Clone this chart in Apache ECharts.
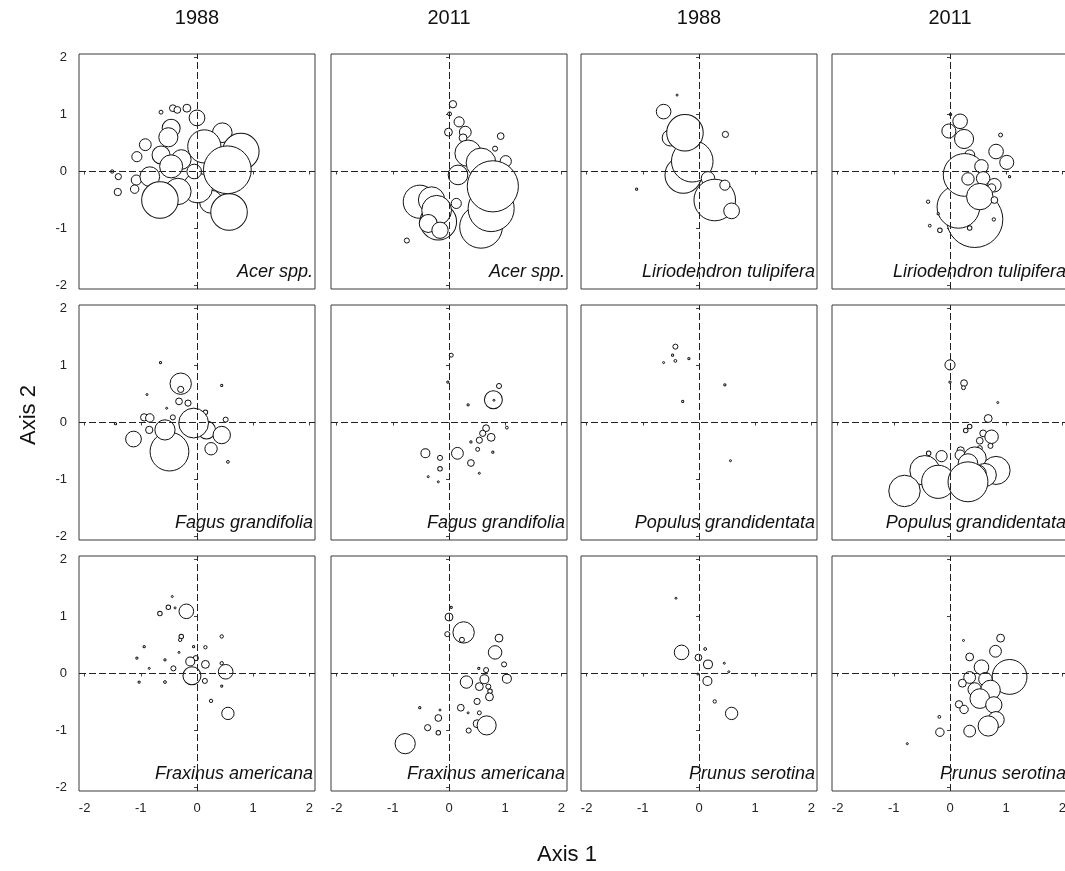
<!DOCTYPE html>
<html>
<head>
<meta charset="utf-8">
<script src="https://cdn.jsdelivr.net/npm/echarts@6.0.0/dist/echarts.min.js"></script>
<style>
  html, body { margin: 0; padding: 0; background: #fff; }
  #graph1 { width: 1065px; height: 871px; }
</style>
</head>
<body>
<div id="graph1"></div>
<script>
// column headers, species names and axis ticks
var years = ['1988', '2011', '1988', '2011'];
var species = ['Acer spp.', 'Liriodendron tulipifera', 'Fagus grandifolia',
    'Populus grandidentata', 'Fraxinus americana', 'Prunus serotina'];
var tickValues = [-2, -1, 0, 1, 2];

// [axis 1, axis 2, bubble size (axis units)]
var acer1988 = [
    [-0.64, 1.04, 0.07], [-0.43, 1.11, 0.12], [-0.35, 1.08, 0.12], [-0.18, 1.11, 0.14],
    [-1.51, 0.0, 0.06], [-1.40, -0.09, 0.11], [-1.41, -0.36, 0.13],
    [-0.92, 0.47, 0.21], [-1.07, 0.26, 0.18],
    [0.45, 0.68, 0.35], [-0.46, 0.76, 0.32], [0.0, 0.94, 0.28],
    [-0.28, 0.21, 0.35], [-0.64, 0.29, 0.32], [-0.46, 0.09, 0.41],
    [-1.08, -0.15, 0.18], [-1.11, -0.31, 0.15], [-0.84, -0.09, 0.35],
    [0.25, -0.53, 0.41], [0.01, -0.29, 0.53], [-0.34, -0.35, 0.47],
    [-0.51, 0.6, 0.34],
    [0.78, 0.35, 0.65], [0.13, 0.44, 0.59],
    [-0.66, -0.5, 0.65], [0.57, -0.71, 0.65], [0.54, 0.03, 0.85], [-0.05, 0.0, 0.26]
];
var acer2011 = [
    [0.07, 1.18, 0.13], [0.01, 1.01, 0.07], [0.18, 0.87, 0.18], [-0.01, 0.69, 0.14],
    [0.29, 0.69, 0.21], [0.25, 0.59, 0.14], [0.92, 0.62, 0.12], [0.82, 0.40, 0.09],
    [-0.75, -1.21, 0.09],
    [0.34, 0.32, 0.47], [0.57, 0.15, 0.53], [1.01, 0.18, 0.2], [0.16, -0.06, 0.35],
    [-0.52, -0.53, 0.59], [-0.31, -0.5, 0.47], [-0.19, -0.88, 0.65], [-0.22, -0.68, 0.53],
    [-0.37, -0.91, 0.32], [-0.16, -1.03, 0.29], [0.13, -0.56, 0.18],
    [0.57, -0.97, 0.76], [0.75, -0.65, 0.82], [0.78, -0.26, 0.91]
];
var lirio1988 = [
    [-0.39, 1.34, 0.03], [-1.11, -0.31, 0.04], [0.47, 0.65, 0.11],
    [-0.63, 1.05, 0.26], [-0.51, 0.59, 0.29],
    [-0.28, -0.06, 0.65], [-0.12, 0.18, 0.74], [-0.25, 0.68, 0.65],
    [0.16, -0.12, 0.24],
    [0.28, -0.5, 0.74], [0.46, -0.24, 0.18], [0.58, -0.69, 0.28]
];
var lirio2011 = [
    [0.01, 1.0, 0.04], [0.9, 0.64, 0.07], [1.06, -0.09, 0.04],
    [0.44, -0.84, 1.0], [0.15, -0.62, 0.76],
    [-0.39, -0.53, 0.06], [-0.36, -0.95, 0.05], [-0.18, -1.03, 0.08], [0.35, -0.99, 0.08],
    [0.78, -0.84, 0.06], [-0.21, -0.74, 0.04],
    [0.18, 0.88, 0.26], [-0.02, 0.71, 0.25], [0.25, 0.57, 0.34], [0.35, 0.29, 0.18],
    [0.82, 0.35, 0.26], [1.01, 0.16, 0.25],
    [0.26, -0.06, 0.76], [0.56, 0.09, 0.24], [0.32, -0.13, 0.22], [0.59, -0.12, 0.24],
    [0.79, -0.24, 0.24], [0.74, -0.29, 0.15], [0.53, -0.44, 0.47], [0.79, -0.5, 0.12]
];
var fagus1988 = [
    [-0.65, 1.05, 0.04], [0.44, 0.65, 0.04], [-1.45, -0.02, 0.04], [-0.89, 0.49, 0.03],
    [-0.54, 0.25, 0.03], [0.55, -0.69, 0.05],
    [-0.29, 0.68, 0.38], [-0.29, 0.58, 0.11], [-0.32, 0.37, 0.12], [-0.16, 0.34, 0.11],
    [-0.94, 0.09, 0.13], [-0.84, 0.08, 0.15], [-0.43, 0.09, 0.09], [-0.85, -0.13, 0.13],
    [-1.13, -0.29, 0.28], [-0.49, -0.51, 0.69], [-0.57, -0.13, 0.36],
    [0.17, -0.13, 0.32], [0.15, 0.18, 0.08], [0.51, 0.05, 0.09], [-0.06, -0.01, 0.53],
    [0.44, -0.22, 0.31], [0.25, -0.46, 0.22]
];
var fagus2011 = [
    [0.04, 1.18, 0.07], [-0.02, 0.71, 0.04], [0.34, 0.31, 0.04], [1.03, -0.09, 0.05],
    [0.78, -0.52, 0.04], [0.54, -0.89, 0.03], [-0.37, -0.95, 0.03], [-0.19, -1.04, 0.03],
    [0.39, -0.34, 0.04],
    [0.79, 0.4, 0.32], [0.8, 0.39, 0.03], [0.89, 0.64, 0.09],
    [0.66, -0.1, 0.12], [0.6, -0.19, 0.11], [0.54, -0.31, 0.11], [0.75, -0.26, 0.14],
    [0.51, -0.47, 0.07],
    [0.15, -0.54, 0.21], [-0.42, -0.54, 0.16], [-0.16, -0.62, 0.09], [-0.16, -0.81, 0.08],
    [0.39, -0.71, 0.12]
];
var populus1988 = [
    [-0.42, 1.33, 0.09], [-0.47, 1.18, 0.04], [-0.42, 1.08, 0.05], [-0.63, 1.05, 0.03],
    [-0.18, 1.12, 0.04], [0.46, 0.66, 0.04], [-0.29, 0.37, 0.04], [0.56, -0.67, 0.03]
];
var populus2011 = [
    [0.0, 1.01, 0.18], [0.0, 0.71, 0.04], [0.25, 0.69, 0.12], [0.24, 0.61, 0.07],
    [0.85, 0.35, 0.03], [0.68, 0.07, 0.14],
    [0.35, -0.07, 0.08], [0.28, -0.14, 0.08], [0.59, -0.19, 0.12], [0.74, -0.25, 0.24],
    [0.53, -0.32, 0.12], [0.53, -0.45, 0.09], [0.72, -0.41, 0.09],
    [-0.38, -0.54, 0.08], [-0.15, -0.59, 0.2], [0.19, -0.49, 0.13], [0.18, -0.57, 0.18],
    [0.44, -0.63, 0.41], [0.32, -0.72, 0.35],
    [-0.45, -0.84, 0.53], [0.82, -0.84, 0.5], [0.62, -0.92, 0.41], [0.5, -0.89, 0.29],
    [-0.21, -1.04, 0.59], [0.32, -1.04, 0.71], [-0.81, -1.2, 0.56]
];
var fraxinus1988 = [
    [-0.44, 1.35, 0.02], [-0.39, 1.15, 0.02], [-0.51, 1.16, 0.08], [-0.66, 1.05, 0.08],
    [-0.19, 1.09, 0.26],
    [-0.28, 0.65, 0.08], [-0.3, 0.59, 0.06], [0.44, 0.65, 0.06], [-0.06, 0.47, 0.04],
    [0.15, 0.46, 0.06], [-0.94, 0.47, 0.04], [-1.07, 0.27, 0.04], [-0.57, 0.24, 0.04],
    [-0.85, 0.09, 0.02], [-0.32, 0.37, 0.03],
    [-0.02, 0.27, 0.09], [-0.12, 0.21, 0.16], [0.15, 0.16, 0.14], [-0.42, 0.09, 0.09],
    [0.44, 0.18, 0.06],
    [-0.09, -0.04, 0.32], [0.14, -0.13, 0.09], [0.51, 0.03, 0.26],
    [0.44, -0.22, 0.04], [-1.03, -0.15, 0.04], [-0.57, -0.15, 0.05], [0.25, -0.48, 0.06],
    [0.55, -0.7, 0.22]
];
var fraxinus2011 = [
    [0.04, 1.16, 0.04], [0.0, 0.99, 0.14], [-0.03, 0.69, 0.09], [0.26, 0.72, 0.38],
    [0.23, 0.59, 0.09],
    [0.89, 0.62, 0.14], [0.82, 0.37, 0.24], [0.98, 0.16, 0.09], [1.03, -0.09, 0.16],
    [0.53, 0.09, 0.04], [0.66, 0.06, 0.09], [0.31, -0.15, 0.22], [0.63, -0.1, 0.16],
    [0.54, -0.23, 0.14], [0.7, -0.23, 0.09], [0.73, -0.31, 0.08], [0.72, -0.41, 0.14],
    [0.5, -0.49, 0.11],
    [0.21, -0.6, 0.12], [0.54, -0.69, 0.07], [-0.52, -0.6, 0.04], [-0.16, -0.64, 0.02],
    [0.34, -0.69, 0.02],
    [0.5, -0.88, 0.14], [0.67, -0.91, 0.34], [0.35, -1.0, 0.09],
    [-0.19, -0.78, 0.12], [-0.38, -0.95, 0.11], [-0.19, -1.04, 0.08], [-0.78, -1.23, 0.36]
];
var prunus1988 = [
    [-0.41, 1.32, 0.03], [0.11, 0.43, 0.05], [-0.31, 0.37, 0.26], [-0.01, 0.28, 0.12],
    [0.16, 0.16, 0.16], [0.45, 0.18, 0.03], [0.53, 0.03, 0.03], [-0.02, -0.01, 0.03],
    [0.15, -0.13, 0.16], [0.28, -0.49, 0.06], [0.58, -0.7, 0.22]
];
var prunus2011 = [
    [0.9, 0.62, 0.14], [0.81, 0.39, 0.21], [0.35, 0.29, 0.14], [0.24, 0.58, 0.02],
    [1.06, -0.06, 0.62], [0.56, 0.11, 0.26], [0.35, -0.07, 0.21], [0.22, -0.17, 0.14],
    [0.44, -0.28, 0.24], [0.63, -0.1, 0.24], [0.72, -0.29, 0.35], [0.53, -0.44, 0.35],
    [0.78, -0.55, 0.29],
    [0.16, -0.54, 0.13], [0.25, -0.63, 0.15],
    [0.82, -0.81, 0.29], [0.68, -0.92, 0.36], [0.35, -1.01, 0.21],
    [-0.18, -1.03, 0.15], [-0.19, -0.76, 0.05], [-0.76, -1.23, 0.03]
];

var panels = [
    acer1988, acer2011, lirio1988, lirio2011,
    fagus1988, fagus2011, populus1988, populus2011,
    fraxinus1988, fraxinus2011, prunus1988, prunus2011
];

// layout
var colLeft = [79, 331, 581, 832];
var rowTop = [54, 305, 556];
var panelW = 236, panelH = 235;
var xMin = -2.1, xMax = 2.1, yMin = -2.06, yMax = 2.06;
var unitPx = panelW / (xMax - xMin);
var font = '"Liberation Sans", Arial, sans-serif';

var grids = [], xAxes = [], yAxes = [], series = [], texts = [];

for (var i = 0; i < panels.length; i++) {
    var r = Math.floor(i / 4), c = i % 4;
    // two species per row: columns 0-1 and columns 2-3
    var name = species[r * 2 + (c >= 2 ? 1 : 0)];
    grids.push({
        left: colLeft[c], top: rowTop[r], width: panelW, height: panelH,
        show: true, borderColor: '#3a3a3a', borderWidth: 1,
        containLabel: false, outerBoundsMode: 'none'
    });
    xAxes.push({
        type: 'value', gridIndex: i, min: xMin, max: xMax,
        axisLine: { show: false },
        splitLine: { show: false },
        axisTick: { show: true, length: 3, customValues: tickValues, lineStyle: { color: '#444' } },
        axisLabel: {
            show: r === 2, customValues: tickValues, margin: 11,
            fontSize: 13, color: '#222', fontFamily: font
        }
    });
    yAxes.push({
        type: 'value', gridIndex: i, min: yMin, max: yMax,
        axisLine: { show: false },
        splitLine: { show: false },
        axisTick: { show: true, length: 3, customValues: tickValues, lineStyle: { color: '#444' } },
        axisLabel: {
            show: c === 0, customValues: tickValues, margin: 12,
            fontSize: 13, color: '#222', fontFamily: font
        }
    });
    // dashed zero lines, kept under the bubbles
    series.push({
        type: 'scatter', xAxisIndex: i, yAxisIndex: i, data: [], z: 1, silent: true,
        markLine: {
            silent: true, symbol: 'none', animation: false,
            label: { show: false },
            lineStyle: { type: [7, 3], color: '#222', width: 1 },
            data: [{ xAxis: 0 }, { yAxis: 0 }]
        }
    });
    series.push({
        type: 'scatter', xAxisIndex: i, yAxisIndex: i, z: 3, silent: true,
        symbol: 'circle',
        symbolSize: function (v) { return Math.max(2, v[2] * unitPx); },
        itemStyle: { color: '#fff', borderColor: '#111', borderWidth: 1, opacity: 1 },
        data: panels[i]
    });
    texts.push({
        type: 'text', z: 5,
        x: colLeft[c] + panelW - 2, y: rowTop[r] + panelH - 17,
        style: {
            text: name, fill: '#111', font: 'italic 18px ' + font,
            textAlign: 'right', textVerticalAlign: 'middle'
        }
    });
}

for (var k = 0; k < years.length; k++) {
    texts.push({
        type: 'text',
        x: colLeft[k] + panelW / 2, y: 18,
        style: { text: years[k], fill: '#111', font: '20px ' + font, textAlign: 'center', textVerticalAlign: 'middle' }
    });
}
texts.push({
    type: 'text', x: 567, y: 855,
    style: { text: 'Axis 1', fill: '#111', font: '22px ' + font, textAlign: 'center', textVerticalAlign: 'middle' }
});
texts.push({
    type: 'text', x: 29, y: 415, rotation: Math.PI / 2,
    style: { text: 'Axis 2', fill: '#111', font: '22px ' + font, textAlign: 'center', textVerticalAlign: 'middle' }
});

var option1 = {
    backgroundColor: '#fff',
    animation: false,
    grid: grids,
    xAxis: xAxes,
    yAxis: yAxes,
    series: series,
    graphic: texts
};

var myChart = echarts.init(document.getElementById('graph1'));
myChart.setOption(option1);
</script>
</body>
</html>
